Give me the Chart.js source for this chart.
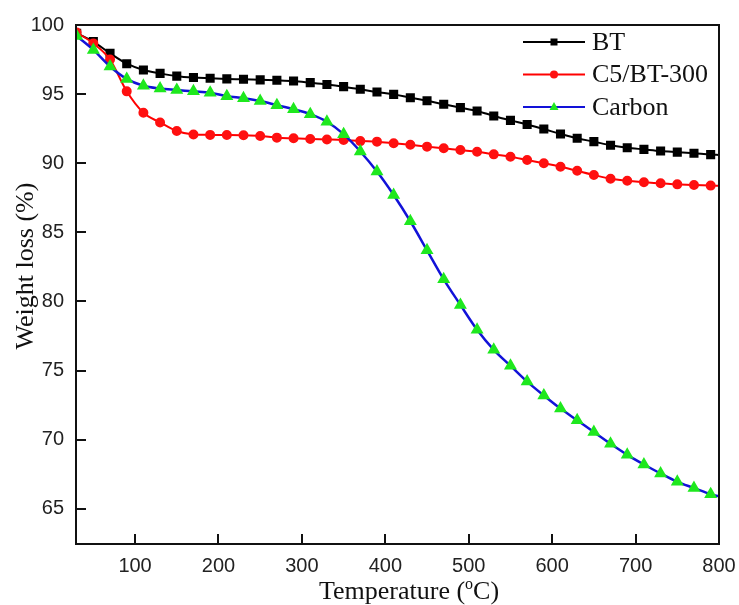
<!DOCTYPE html>
<html>
<head>
<meta charset="utf-8">
<title>TGA curves</title>
<script src="https://cdn.jsdelivr.net/npm/chart.js@4.4.1/dist/chart.umd.min.js"></script>
<style>
  body { margin: 0; background: #fff; }
  #wrap { width: 739px; height: 605px; }
</style>
</head>
<body>
<div id="wrap"><canvas id="chart" width="739" height="605"></canvas></div>
<script>
// temperatures (C) where points were sampled
const temps = [30, 50, 70, 90, 110, 130, 150, 170, 190, 210, 230, 250, 270, 290, 310, 330, 350, 370, 390, 410,
  430, 450, 470, 490, 510, 530, 550, 570, 590, 610, 630, 650, 670, 690, 710, 730, 750, 770, 790, 800]

const btLoss = [99.4, 98.8, 97.95, 97.2, 96.75, 96.5, 96.3, 96.2, 96.15, 96.1, 96.07, 96.03, 96.0, 95.95, 95.83, 95.7, 95.54, 95.35, 95.15, 94.98,
  94.74, 94.52, 94.26, 94.02, 93.78, 93.42, 93.1, 92.8, 92.47, 92.12, 91.8, 91.56, 91.3, 91.12, 91.0, 90.88, 90.8, 90.72, 90.62, 90.6]

const c5Loss = [99.45, 98.67, 97.5, 95.2, 93.65, 92.95, 92.33, 92.08, 92.05, 92.04, 92.02, 91.97, 91.85, 91.8, 91.75, 91.72, 91.68, 91.6, 91.56, 91.45,
  91.33, 91.2, 91.08, 90.95, 90.83, 90.64, 90.47, 90.23, 90.0, 89.75, 89.45, 89.15, 88.88, 88.73, 88.62, 88.55, 88.47, 88.42, 88.38, 88.37]

const carbonLoss = [99.2, 98.2, 97.0, 96.1, 95.6, 95.4, 95.3, 95.2, 95.1, 94.85, 94.7, 94.5, 94.2, 93.9, 93.55, 93.0, 92.1, 90.85, 89.4, 87.7,
  85.8, 83.7, 81.6, 79.75, 77.95, 76.5, 75.35, 74.2, 73.2, 72.25, 71.4, 70.55, 69.7, 68.9, 68.2, 67.55, 66.95, 66.5, 66.05, 65.9]

const seriesNames = ['BT', 'C5/BT-300', 'Carbon']
const xTicks = [100, 200, 300, 400, 500, 600, 700, 800]
const yTicks = [65, 70, 75, 80, 85, 90, 95, 100]

function toPoints(values){
  return temps.map((t, i) => ({ x: t, y: values[i] }))
}
// no marker on the final 800 point
function markerSize(r){
  return ctx => (ctx.raw && ctx.raw.x > 795) ? 0 : r
}

const sans = '"Liberation Sans", Arial, sans-serif'
const serif = '"Liberation Serif", "Times New Roman", serif'

// draws the box, inward ticks, axis titles and the legend
const framePlugin = {
  id: 'frame',
  afterDraw(chart){
    const ctx = chart.ctx
    const area = chart.chartArea
    const xs = chart.scales.x
    const ys = chart.scales.y
    ctx.save()
    ctx.strokeStyle = '#111'
    ctx.lineWidth = 2
    ctx.strokeRect(area.left, area.top, area.right - area.left, area.bottom - area.top)

    ctx.beginPath()
    xTicks.forEach(v => {
      const px = Math.round(xs.getPixelForValue(v))
      ctx.moveTo(px, area.bottom)
      ctx.lineTo(px, area.bottom - 10)
    })
    yTicks.forEach(v => {
      const py = Math.round(ys.getPixelForValue(v))
      ctx.moveTo(area.left, py)
      ctx.lineTo(area.left + 10, py)
    })
    ctx.stroke()

    // y title
    ctx.fillStyle = '#111'
    ctx.font = '26px ' + serif
    ctx.textAlign = 'center'
    ctx.textBaseline = 'alphabetic'
    ctx.save()
    ctx.translate(33, 266)
    ctx.rotate(-Math.PI / 2)
    ctx.fillText('Weight loss (%)', 0, 0)
    ctx.restore()

    // x title with superscript o
    const partA = 'Temperature ('
    const partB = 'o'
    const partC = 'C)'
    ctx.textAlign = 'left'
    ctx.font = '26px ' + serif
    const wA = ctx.measureText(partA).width
    const wC = ctx.measureText(partC).width
    ctx.font = '16px ' + serif
    const wB = ctx.measureText(partB).width
    let x0 = 409 - (wA + wB + wC) / 2
    const base = 599
    ctx.font = '26px ' + serif
    ctx.fillText(partA, x0, base)
    ctx.font = '16px ' + serif
    ctx.fillText(partB, x0 + wA, base - 10)
    ctx.font = '26px ' + serif
    ctx.fillText(partC, x0 + wA + wB, base)

    // legend
    chart.data.datasets.forEach((ds, i) => {
      const y = 42 + i * 32.5
      ctx.strokeStyle = ds.borderColor
      ctx.lineWidth = 2
      ctx.beginPath()
      ctx.moveTo(523, y)
      ctx.lineTo(585, y)
      ctx.stroke()
      ctx.fillStyle = ds.pointBackgroundColor
      ctx.beginPath()
      if(ds.pointStyle === 'rect'){
        ctx.rect(550.5, y - 3.5, 7, 7)
      } else if(ds.pointStyle === 'circle'){
        ctx.arc(554, y, 4, 0, Math.PI * 2)
      } else {
        ctx.moveTo(554, y - 5)
        ctx.lineTo(558.5, y + 3)
        ctx.lineTo(549.5, y + 3)
        ctx.closePath()
      }
      ctx.fill()
      ctx.fillStyle = '#111'
      ctx.font = '26px ' + serif
      ctx.textAlign = 'left'
      ctx.textBaseline = 'middle'
      ctx.fillText(ds.label, 592, y + 1)
    })
    ctx.restore()
  }
}

const config = {
  type: 'line',
  data: {
    datasets: [
      {
        label: seriesNames[0],
        data: toPoints(btLoss),
        borderColor: '#000000',
        backgroundColor: '#000000',
        pointBackgroundColor: '#000000',
        pointBorderColor: '#000000',
        pointStyle: 'rect',
        pointRadius: markerSize(5),
        borderWidth: 2,
        order: 3
      },
      {
        label: seriesNames[1],
        data: toPoints(c5Loss),
        borderColor: '#ff0000',
        backgroundColor: '#ff0000',
        pointBackgroundColor: '#ff1010',
        pointBorderColor: '#ff1010',
        pointStyle: 'circle',
        pointRadius: markerSize(4),
        borderWidth: 2,
        order: 2
      },
      {
        label: seriesNames[2],
        data: toPoints(carbonLoss),
        borderColor: '#1212d8',
        backgroundColor: '#1212d8',
        pointBackgroundColor: '#1ee81e',
        pointBorderColor: '#1ee81e',
        pointStyle: 'triangle',
        pointRadius: markerSize(5),
        borderWidth: 2.5,
        order: 1
      }
    ]
  },
  options: {
    responsive: false,
    animation: false,
    devicePixelRatio: 1,
    cubicInterpolationMode: 'monotone',
    layout: { padding: { left: 0, right: 20, top: 25, bottom: 0 } },
    plugins: {
      legend: { display: false },
      tooltip: { enabled: false }
    },
    scales: {
      x: {
        type: 'linear',
        min: 29.2,
        max: 800,
        grid: { display: false, drawTicks: false },
        border: { display: false },
        afterBuildTicks: s => { s.ticks = xTicks.map(v => ({ value: v })) },
        afterFit: s => { s.height = 61; s.paddingRight = 0; s.paddingLeft = 0 },
        ticks: { font: { family: sans, size: 20 }, color: '#222', padding: 10, maxRotation: 0 }
      },
      y: {
        min: 62.45,
        max: 100,
        grid: { display: false, drawTicks: false },
        border: { display: false },
        afterBuildTicks: s => { s.ticks = yTicks.map(v => ({ value: v })) },
        afterFit: s => { s.width = 76; s.paddingTop = 0; s.paddingBottom = 0 },
        ticks: { font: { family: sans, size: 20 }, color: '#222', padding: 12 }
      }
    }
  },
  plugins: [framePlugin]
}

const ctx = document.getElementById('chart').getContext('2d')
const chart = new Chart(ctx, config)
</script>
</body>
</html>
